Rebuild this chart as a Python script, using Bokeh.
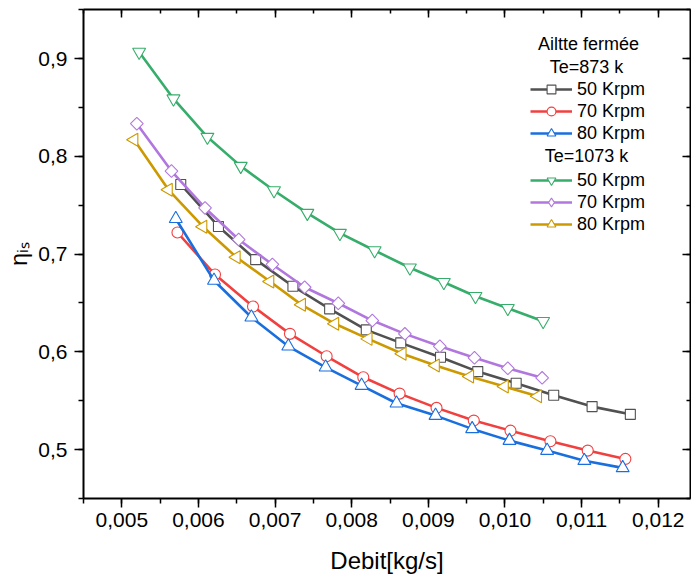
import math
from bokeh.plotting import figure
from bokeh.models import (Range1d, LinearAxis, SingleIntervalTicker, CustomJSTickFormatter,
                          CustomLabelingPolicy, Legend, LegendItem, Label)
from bokeh.embed import file_html
from bokeh.resources import INLINE

# ---- Data ----
# Te = 873 K
x_873_50 = [0.005769, 0.006261, 0.006747, 0.007233, 0.007712, 0.008190, 0.008640,
            0.009159, 0.009645, 0.010146, 0.010636, 0.011137, 0.011636]
y_873_50 = [0.7712, 0.7283, 0.6943, 0.6671, 0.6440, 0.6225, 0.6092,
            0.5945, 0.5798, 0.5679, 0.5556, 0.5440, 0.5361]
x_873_70 = [0.005726, 0.006216, 0.006712, 0.007194, 0.007673, 0.008151, 0.008625,
            0.009107, 0.009593, 0.010072, 0.010593, 0.011080, 0.011571]
y_873_70 = [0.7221, 0.6791, 0.6464, 0.6184, 0.5955, 0.5740, 0.5573,
            0.5427, 0.5297, 0.5194, 0.5085, 0.4990, 0.4905]
x_873_80 = [0.005704, 0.006203, 0.006691, 0.007173, 0.007660, 0.008129, 0.008585,
            0.009094, 0.009572, 0.010059, 0.010550, 0.011036, 0.011536]
y_873_80 = [0.7361, 0.6730, 0.6354, 0.6057, 0.5842, 0.5655, 0.5474,
            0.5348, 0.5212, 0.5092, 0.4990, 0.4887, 0.4813]
# Te = 1073 K
x_1073_50 = [0.005226, 0.005674, 0.006117, 0.006552, 0.006986, 0.007421, 0.007846,
             0.008299, 0.008759, 0.009202, 0.009615, 0.010037, 0.010498]
y_1073_50 = [0.9067, 0.8590, 0.8197, 0.7900, 0.7651, 0.7419, 0.7214,
             0.7037, 0.6860, 0.6712, 0.6569, 0.6446, 0.6313]
x_1073_70 = [0.005196, 0.005648, 0.006086, 0.006525, 0.006965, 0.007386, 0.007825,
             0.008269, 0.008694, 0.009150, 0.009602, 0.010037, 0.010485]
y_1073_70 = [0.8334, 0.7849, 0.7472, 0.7149, 0.6894, 0.6661, 0.6497,
             0.6320, 0.6184, 0.6057, 0.5939, 0.5832, 0.5734]
x_1073_80 = [0.005160, 0.005609, 0.006060, 0.006495, 0.006934, 0.007347, 0.007781,
             0.008216, 0.008660, 0.009094, 0.009541, 0.009994, 0.010428]
y_1073_80 = [0.8170, 0.7658, 0.7280, 0.6968, 0.6720, 0.6481, 0.6287,
             0.6133, 0.5980, 0.5860, 0.5747, 0.5645, 0.5546]

labels_speed = ["50 Krpm", "70 Krpm", "80 Krpm"]
heading_main = "Ailtte fermée"
heading_873 = "Te=873 k"
heading_1073 = "Te=1073 k"
x_title = "Debit[kg/s]"
y_title = "η\u1d62\u209b"

FONT = "Liberation Sans"

p = figure(width=691, height=577, output_backend="svg", toolbar_location=None,
           x_range=Range1d(0.0045, 0.012421), y_range=Range1d(0.45, 0.9502),
           min_border_left=83, min_border_right=1, min_border_top=9, min_border_bottom=79,
           x_axis_type=None, y_axis_type=None)
p.xgrid.visible = False
p.ygrid.visible = False
p.outline_line_color = None
p.background_fill_color = "white"
p.border_fill_color = "white"

NO_LABELS = CustomLabelingPolicy(code="""
    const n = indices.size
    for (let i = 0; i < n; i++) { indices.unset(i) }
    return indices
""")

def mk_axis(ticker, show_labels, inward):
    ax = LinearAxis(ticker=ticker)
    ax.axis_line_color = "black"
    ax.axis_line_width = 2
    ax.major_tick_line_color = "black"
    ax.major_tick_line_width = 1.5
    ax.minor_tick_line_color = "black"
    ax.minor_tick_line_width = 1.5
    if inward:
        ax.major_tick_in, ax.major_tick_out = 8, 0
        ax.minor_tick_in, ax.minor_tick_out = 4, 0
    else:
        ax.major_tick_in, ax.major_tick_out = 0, 9
        ax.minor_tick_in, ax.minor_tick_out = 0, 5
    if show_labels:
        ax.major_label_text_font = FONT
        ax.major_label_text_font_size = "21px"
        ax.major_label_text_color = "black"
    else:
        ax.major_label_policy = NO_LABELS
        ax.formatter = CustomJSTickFormatter(code="return '';")
        ax.major_label_text_font_size = "1px"
        ax.major_label_standoff = 0
    return ax

xt = lambda: SingleIntervalTicker(interval=0.001, num_minor_ticks=2)
yt = lambda: SingleIntervalTicker(interval=0.1, num_minor_ticks=2)

xb = mk_axis(xt(), True, False)
xb.formatter = CustomJSTickFormatter(code="return tick.toFixed(3).replace('.', ',');")
xb.major_label_standoff = 5
xb.axis_label = x_title
xb.axis_label_text_font = FONT
xb.axis_label_text_font_size = "24px"
xb.axis_label_text_font_style = "normal"
xb.axis_label_text_color = "black"
xb.axis_label_standoff = 17
p.add_layout(xb, "below")

yl = mk_axis(yt(), True, False)
yl.formatter = CustomJSTickFormatter(code="return tick.toFixed(1).replace('.', ',');")
yl.major_label_standoff = 7
yl.axis_label = y_title
yl.axis_label_text_font = FONT
yl.axis_label_text_font_size = "23px"
yl.axis_label_text_font_style = "normal"
yl.axis_label_text_color = "black"
yl.axis_label_standoff = 3
p.add_layout(yl, "left")

p.add_layout(mk_axis(xt(), False, True), "above")
p.add_layout(mk_axis(yt(), False, True), "right")

series = [
    (x_873_50, y_873_50, "#515151", "square", 10, 0.0, None),
    (x_873_70, y_873_70, "#F14040", "circle", 11, 0.0, None),
    (x_873_80, y_873_80, "#1A6FDF", "triangle", 13, 0.0, None),
    (x_1073_50, y_1073_50, "#37AD6B", "inverted_triangle", 13, 0.0, None),
    (x_1073_70, y_1073_70, "#B177DE", "square", 9, math.pi / 4, "diamond"),
    (x_1073_80, y_1073_80, "#CC9900", "triangle", 13, math.pi / 2, None),
]

items = []
for xs, ys, col, mk, sz, ang, leg_mk in series:
    lr = p.line(xs, ys, line_color=col, line_width=2.6)
    sr = p.scatter(xs, ys, marker=mk, size=sz, angle=ang, fill_color="white",
                   line_color=col, line_width=1.1)
    rs = [lr, sr]
    if leg_mk is not None:
        # legend-only marker (legend glyphs are drawn unrotated)
        hr = p.scatter(xs, ys, marker=leg_mk, size=sz, fill_color="white",
                       line_color=col, line_width=1.1, visible=False)
        rs = [lr, hr]
    items.append(rs)

def mk_legend(its, names, loc):
    lg = Legend(items=[LegendItem(label=n, renderers=r) for n, r in zip(names, its)],
                location=loc, orientation="vertical")
    lg.border_line_color = None
    lg.background_fill_alpha = 0
    lg.padding = 0
    lg.margin = 0
    lg.glyph_width = 42
    lg.glyph_height = 22
    lg.label_height = 20
    lg.spacing = 0
    lg.label_standoff = 5
    lg.label_text_font = FONT
    lg.label_text_font_size = "18px"
    lg.label_text_color = "black"
    return lg

p.add_layout(mk_legend(items[0:3], labels_speed, (447, 354)), "center")
p.add_layout(mk_legend(items[3:6], labels_speed, (447, 263)), "center")

for txt, x, y in [(heading_main, 505, 455), (heading_873, 503, 432), (heading_1073, 503, 343)]:
    p.add_layout(Label(x=x, y=y, x_units="screen", y_units="screen", text=txt,
                       text_align="center", text_baseline="middle",
                       text_font=FONT, text_font_size="18px", text_color="black"))

open("out.html", "w").write(file_html(p, INLINE))
